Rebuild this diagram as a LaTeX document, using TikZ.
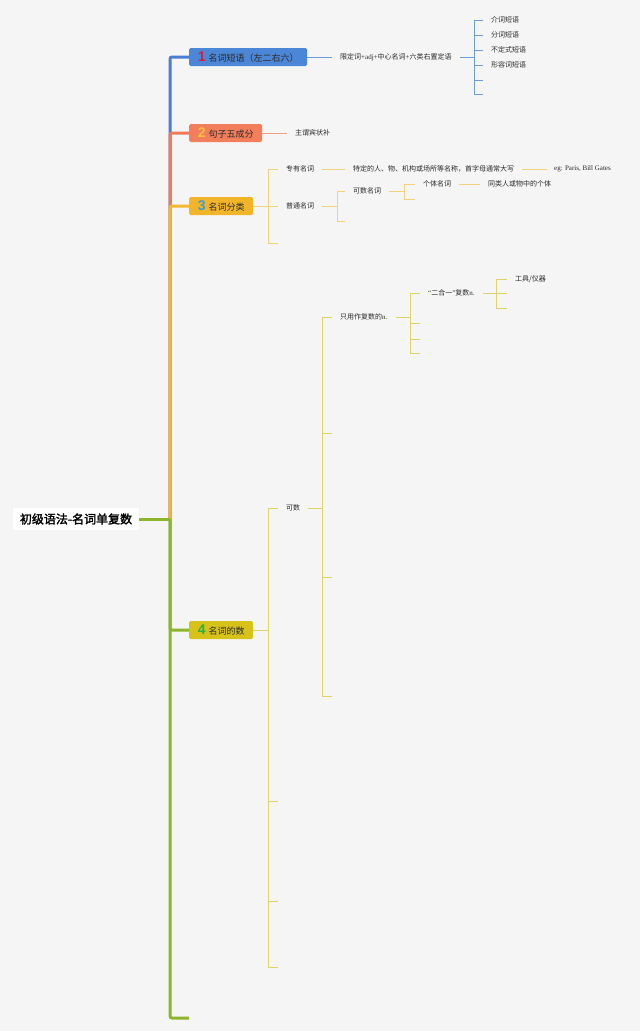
\documentclass[tikz,border=0pt]{standalone}
\usepackage{fontspec}
\setmainfont{Noto Sans CJK SC}[AutoFakeBold=2]
\newfontfamily\serifen{Liberation Serif}
\newfontfamily\numfont{Liberation Sans}
\definecolor{bg}{HTML}{F6F5F5}
\definecolor{txt}{HTML}{2A2A2A}
\definecolor{boxA}{HTML}{4C86D6}
\definecolor{boxB}{HTML}{F37E5B}
\definecolor{boxC}{HTML}{F2B52A}
\definecolor{boxD}{HTML}{D7C21A}
\definecolor{trA}{HTML}{4A7ED2}
\definecolor{trB}{HTML}{EF7A58}
\definecolor{trC}{HTML}{F2B733}
\definecolor{trD}{HTML}{8DB52C}
\definecolor{thA}{HTML}{6E9BDD}
\definecolor{thB}{HTML}{F3A088}
\definecolor{thC}{HTML}{F2D27E}
\definecolor{thD}{HTML}{DCD46A}
\definecolor{numA}{HTML}{D0223D}
\definecolor{numB}{HTML}{F9C23C}
\definecolor{numC}{HTML}{3D9BDA}
\definecolor{numD}{HTML}{2DAF3D}
\newcommand{\bignum}[2]{{\numfont\bfseries\fontsize{14}{14}\selectfont\color{#1}#2}\hspace{3pt}}
\newcommand{\en}[1]{{\serifen #1}}
\tikzset{
  mainbox/.style={rounded corners=1.5pt, minimum height=18pt, inner xsep=8pt, inner ysep=0pt, anchor=west, text=txt, font=\fontsize{9}{9}\selectfont},
  lab/.style={inner xsep=8pt, inner ysep=1.5pt, anchor=west, text=txt, font=\fontsize{7}{7}\selectfont},
  trunk/.style={line width=3pt, rounded corners=2pt},
  thin/.style={line width=0.9pt},
}
\begin{document}
\begin{tikzpicture}[x=1pt,y=-1pt]
\fill[bg] (0,0) rectangle (640,1031);
\useasboundingbox (0,0) rectangle (640,1031);

% root and main nodes
\node[fill=white, inner xsep=7pt, minimum height=22pt, text=black, font=\fontsize{12}{12}\selectfont\bfseries] (root) at (76,519) {初级语法-名词单复数};
\node[mainbox, fill=boxA, minimum width=118pt] (n1) at (189,57) {\bignum{numA}{1}名词短语（左二右六）};
\node[mainbox, fill=boxB, minimum width=73pt] (n2) at (189,133) {\bignum{numB}{2}句子五成分};
\node[mainbox, fill=boxC, minimum width=64pt] (n3) at (189,206) {\bignum{numC}{3}名词分类};
\node[mainbox, fill=boxD, minimum width=64pt] (n4) at (189,630) {\bignum{numD}{4}名词的数};
\coordinate (tk) at (170,519);
\coordinate (e5) at (189,1018);

\draw[trunk, trA] (tk) |- (n1.west);
\draw[trunk, trB] (tk) |- (n2.west);
\draw[trunk, trC] (tk) |- (n3.west);
\draw[trunk, trD] (tk) |- (n4.west);
\draw[trunk, trD] (tk) |- (e5);
\draw[trunk, trD, rounded corners=0pt] (root.east) -- (tk);

% branch 1
\node[lab] (l1) at (332,57) {限定词\en{+adj+}中心名词\en{+}六类右置定语};
\node[lab] (c11) at (483,20) {介词短语};
\node[lab] (c12) at (483,35) {分词短语};
\node[lab] (c13) at (483,50) {不定式短语};
\node[lab] (c14) at (483,65) {形容词短语};
\coordinate (e15) at (483,80);
\coordinate (e16) at (483,94);
\coordinate (b1) at (474,57);
\begin{scope}[thin, thA]
\draw (n1.east) -- (l1.west);
\draw (l1.east) -- (b1);
\foreach \c in {c11,c12,c13,c14} \draw (b1) |- (\c.west);
\foreach \c in {e15,e16} \draw (b1) |- (\c);
\end{scope}

% branch 2
\node[lab] (l2) at (287,133) {主谓宾状补};
\draw[thin, thB] (n2.east) -- (l2.west);

% branch 3
\coordinate (b3) at (268,206);
\node[lab] (c31) at (278,169) {专有名词};
\node[lab] (c32) at (278,206) {普通名词};
\coordinate (e33) at (278,243);
\node[lab] (d31) at (345,169) {特定的人、物、机构或场所等名称，首字母通常大写};
\node[lab, inner xsep=7pt, font=\serifen\fontsize{7}{7}\selectfont] (d32) at (547,169) {eg: Paris, Bill Gates};
\coordinate (b32) at (337,206);
\node[lab] (c321) at (345,191) {可数名词};
\coordinate (e322) at (345,221);
\coordinate (b321) at (404,191);
\node[lab] (c3211) at (415,184) {个体名词};
\coordinate (e3212) at (415,199);
\node[lab] (d3211) at (480,184) {同类人或物中的个体};
\begin{scope}[thin, thC]
\draw (n3.east) -- (b3);
\draw (b3) |- (c31.west);
\draw (b3) |- (c32.west);
\draw (b3) |- (e33);
\draw (c31.east) -- (d31.west);
\draw (d31.east) -- (d32.west);
\draw (c32.east) -- (b32);
\draw (b32) |- (c321.west);
\draw (b32) |- (e322);
\draw (c321.east) -- (b321);
\draw (b321) |- (c3211.west);
\draw (b321) |- (e3212);
\draw (c3211.east) -- (d3211.west);
\end{scope}

% branch 4
\coordinate (b4) at (268,630);
\node[lab] (c41) at (278,508) {可数};
\coordinate (e42) at (278,801);
\coordinate (e43) at (278,901);
\coordinate (e44) at (278,967);
\coordinate (b41) at (322,508);
\node[lab] (c411) at (332,317) {只用作复数的\en{n.}};
\coordinate (e412) at (332,433);
\coordinate (e413) at (332,577);
\coordinate (e414) at (332,696);
\coordinate (b411) at (410,317);
\node[lab] (c4111) at (420,293) {\en{“}二合一\en{”}复数\en{n.}};
\coordinate (e4112) at (420,323);
\coordinate (e4113) at (420,339);
\coordinate (e4114) at (420,353);
\coordinate (b4111) at (496,293);
\node[lab] (c41111) at (507,279) {工具/仪器};
\coordinate (e41112) at (507,293);
\coordinate (e41113) at (507,308);
\begin{scope}[thin, thD]
\draw (n4.east) -- (b4);
\draw (b4) |- (c41.west);
\foreach \c in {e42,e43,e44} \draw (b4) |- (\c);
\draw (c41.east) -- (b41);
\draw (b41) |- (c411.west);
\foreach \c in {e412,e413,e414} \draw (b41) |- (\c);
\draw (c411.east) -- (b411);
\draw (b411) |- (c4111.west);
\foreach \c in {e4112,e4113,e4114} \draw (b411) |- (\c);
\draw (c4111.east) -- (b4111);
\draw (b4111) |- (c41111.west);
\foreach \c in {e41112,e41113} \draw (b4111) |- (\c);
\end{scope}
\end{tikzpicture}
\end{document}
